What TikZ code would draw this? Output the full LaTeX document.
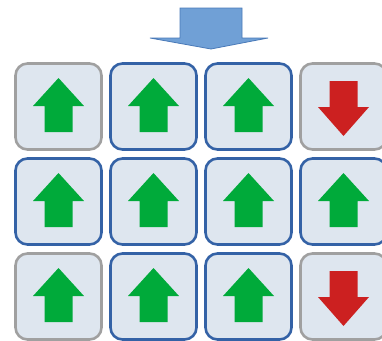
\documentclass[tikz,border=0pt]{standalone}
\definecolor{boxfill}{HTML}{DEE6EF}
\definecolor{boxblue}{HTML}{3462A6}
\definecolor{boxgrey}{HTML}{A0A0A0}
\definecolor{upgreen}{HTML}{00AA3A}
\definecolor{downred}{HTML}{CC2020}
\definecolor{topfill}{HTML}{70A0D6}
\definecolor{topline}{HTML}{4A7AB8}
\tikzset{
  cell/.style={draw, fill=boxfill, line width=2.6pt, rounded corners=12pt,
    minimum width=86pt, minimum height=86pt, inner sep=0pt},
  bluecell/.style={cell, draw=boxblue},
  greycell/.style={cell, draw=boxgrey},
  uparrow/.style={fill=upgreen, draw=none},
  downarrow/.style={fill=downred, draw=none},
  toparrow/.style={fill=topfill, draw=topline, line width=0.8pt}
}
\newcommand{\greenup}[1]{%
  \fill[uparrow] ([shift={(-14pt,-25.5pt)}]#1.center) -- ([shift={(14pt,-25.5pt)}]#1.center)
    -- ([shift={(14pt,0.5pt)}]#1.center) -- ([shift={(25.5pt,0.5pt)}]#1.center)
    -- ([shift={(0pt,28.5pt)}]#1.center) -- ([shift={(-25.5pt,0.5pt)}]#1.center)
    -- ([shift={(-14pt,0.5pt)}]#1.center) -- cycle;}
\newcommand{\reddown}[1]{%
  \fill[downarrow] ([shift={(-14pt,25.5pt)}]#1.center) -- ([shift={(14pt,25.5pt)}]#1.center)
    -- ([shift={(14pt,-0.5pt)}]#1.center) -- ([shift={(25.5pt,-0.5pt)}]#1.center)
    -- ([shift={(0pt,-29.5pt)}]#1.center) -- ([shift={(-25.5pt,-0.5pt)}]#1.center)
    -- ([shift={(-14pt,-0.5pt)}]#1.center) -- cycle;}
\begin{document}
\begin{tikzpicture}[x=1pt,y=-1pt]
\useasboundingbox (0,0) rectangle (382,340);
% top arrow
\draw[toparrow] (180,8) -- (242,8) -- (242,38) -- (268,38) -- (211,49) -- (150,38) -- (180,38) -- cycle;
% row 1
\node[greycell] (a1) at (58.5,106.5) {};
\node[bluecell] (a2) at (153.5,106.5) {};
\node[bluecell] (a3) at (248.5,106.5) {};
\node[greycell] (a4) at (343.5,106.5) {};
% row 2
\node[bluecell] (b1) at (58.5,201.5) {};
\node[bluecell] (b2) at (153.5,201.5) {};
\node[bluecell] (b3) at (248.5,201.5) {};
\node[bluecell] (b4) at (343.5,201.5) {};
% row 3
\node[greycell] (c1) at (58.5,296.5) {};
\node[bluecell] (c2) at (153.5,296.5) {};
\node[bluecell] (c3) at (248.5,296.5) {};
\node[greycell] (c4) at (343.5,296.5) {};
\greenup{a1}\greenup{a2}\greenup{a3}\reddown{a4}
\greenup{b1}\greenup{b2}\greenup{b3}\greenup{b4}
\greenup{c1}\greenup{c2}\greenup{c3}\reddown{c4}
\end{tikzpicture}
\end{document}
